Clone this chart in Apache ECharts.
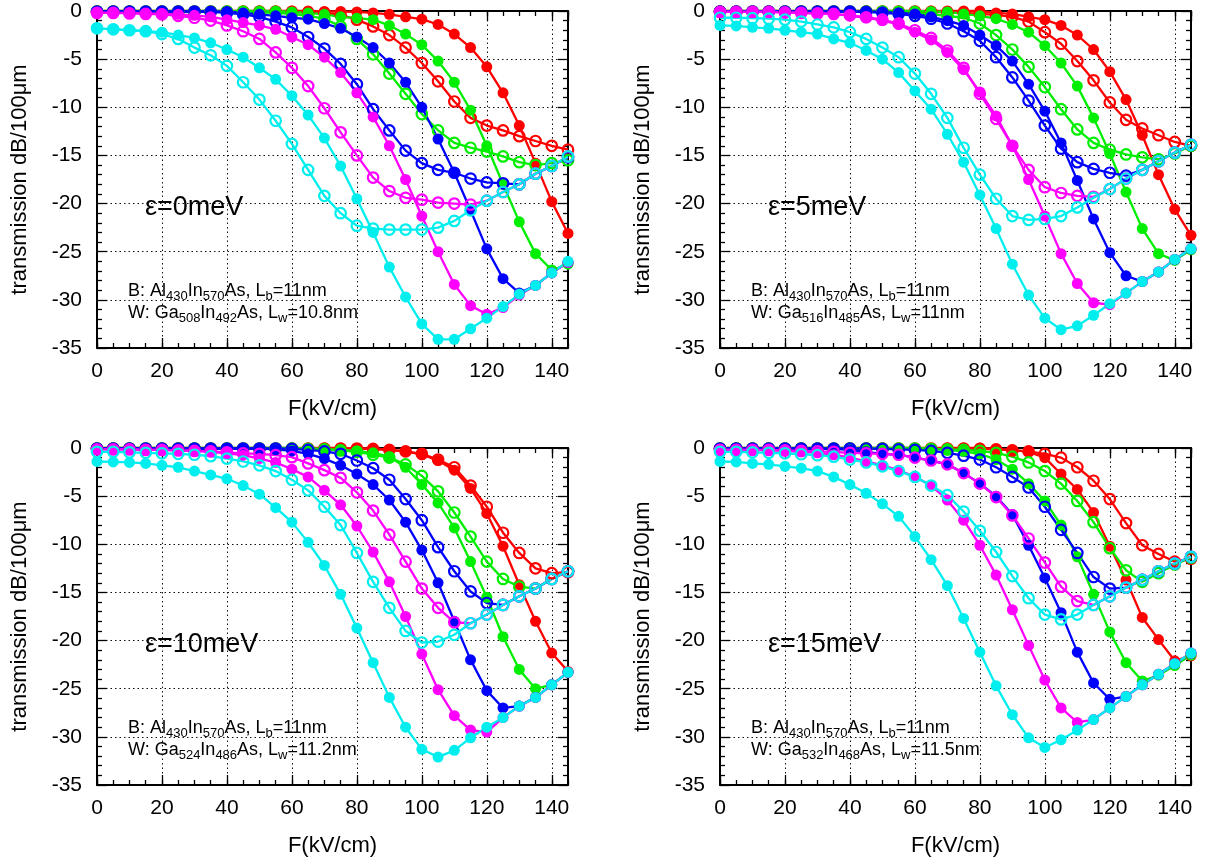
<!DOCTYPE html>
<html><head><meta charset="utf-8">
<script src="https://cdn.jsdelivr.net/npm/echarts@6/dist/echarts.min.js"></script>
<style>html,body{margin:0;padding:0;background:#fff}#c{width:1209px;height:858px}</style>
</head><body><div id="c"></div>
<script>
// ---------- data ----------
const F = [0,5,10,15,20,25,30,35,40,45,50,55,60,65,70,75,80,85,90,95,100,105,110,115,120,125,130,135,140,145];
const xTickLabels = [0,20,40,60,80,100,120,140];
const yTickLabels = [0,-5,-10,-15,-20,-25,-30,-35];

// eps = 0 meV
const e0_red_f = [0,0,0,0,0,0,0,0,0,0,0,0,0,0,-0.05,-0.05,-0.1,-0.2,-0.35,-0.6,-0.85,-1.4,-2.4,-3.8,-5.8,-8.5,-11.9,-15.8,-19.8,-23.1];
const e0_red_o = [-0.05,-0.05,-0.05,-0.05,-0.05,-0.05,-0.05,-0.05,-0.05,-0.05,-0.05,-0.05,-0.1,-0.15,-0.2,-0.4,-0.9,-1.6,-2.5,-3.8,-5.4,-7.3,-9.4,-11.1,-11.9,-12.4,-13.0,-13.5,-14.0,-14.4];
const e0_grn_f = [0,0,0,0,0,0,0,0,0,0,0,0,-0.1,-0.2,-0.35,-0.6,-0.75,-0.9,-1.5,-2.4,-3.5,-5.2,-7.4,-10.3,-14.0,-18.0,-21.9,-25.2,-26.9,-26.3];
const e0_grn_o = [-0.05,-0.05,-0.05,-0.05,-0.05,-0.05,-0.05,-0.05,-0.05,-0.1,-0.15,-0.2,-0.3,-0.5,-0.8,-1.6,-2.9,-4.5,-6.5,-8.6,-10.7,-12.4,-13.7,-14.2,-14.6,-15.1,-15.7,-16.0,-15.8,-15.5];
const e0_blu_f = [-0.05,-0.05,-0.05,-0.05,-0.05,-0.05,-0.05,-0.05,-0.05,-0.2,-0.35,-0.5,-0.7,-0.85,-1.3,-1.8,-2.7,-3.8,-5.4,-7.4,-10.0,-13.3,-16.8,-20.7,-24.7,-27.8,-29.3,-28.5,-27.2,-26.1];
const e0_blu_o = [-0.05,-0.05,-0.05,-0.05,-0.05,-0.05,-0.05,-0.1,-0.2,-0.35,-0.6,-1.1,-1.7,-2.7,-3.9,-5.5,-7.6,-10.2,-12.4,-14.5,-15.8,-16.5,-16.8,-17.4,-17.8,-17.9,-18.0,-16.9,-16.1,-15.2];
const e0_mag_f = [-0.2,-0.2,-0.2,-0.25,-0.3,-0.35,-0.45,-0.6,-0.9,-1.2,-1.5,-1.9,-2.7,-3.5,-4.8,-6.4,-8.5,-11.0,-14.0,-17.5,-21.3,-25.0,-28.4,-30.6,-31.5,-30.8,-29.5,-28.5,-27.2,-26.1];
const e0_mag_o = [-0.2,-0.2,-0.25,-0.3,-0.35,-0.5,-0.7,-1.0,-1.5,-2.1,-2.9,-4.3,-5.9,-7.8,-10.1,-12.6,-15.0,-17.3,-18.7,-19.4,-19.6,-19.9,-20.0,-20.1,-19.7,-18.8,-18.0,-16.9,-16.1,-15.1];
const e0_cyn_f = [-1.8,-1.9,-2.0,-2.1,-2.2,-2.5,-2.8,-3.3,-4.0,-4.8,-5.9,-7.1,-8.8,-10.8,-13.2,-16.1,-19.5,-23.0,-26.6,-29.7,-32.5,-34.1,-34.1,-33.0,-31.9,-30.7,-29.4,-28.5,-27.2,-26.0];
const e0_cyn_o = [-1.8,-1.9,-2.0,-2.1,-2.4,-2.9,-3.8,-4.6,-5.7,-7.4,-9.2,-11.4,-13.8,-16.5,-19.2,-21.0,-22.3,-22.6,-22.7,-22.7,-22.7,-22.5,-21.8,-20.7,-19.7,-18.8,-18.0,-16.9,-16.1,-15.1];

// eps = 5 meV
const e5_red_f = [0,0,0,0,0,0,0,0,0,0,0,0,0,0,0,0,0,-0.2,-0.3,-0.6,-0.9,-1.5,-2.5,-4.0,-6.3,-9.2,-12.9,-17.0,-20.6,-23.3];
const e5_red_o = [-0.05,-0.05,-0.05,-0.05,-0.05,-0.05,-0.05,-0.05,-0.05,-0.05,-0.05,-0.05,-0.05,-0.1,-0.15,-0.2,-0.3,-0.4,-0.6,-1.1,-2.2,-3.4,-5.2,-7.2,-9.5,-11.3,-12.2,-12.9,-13.6,-14.0];
const e5_grn_f = [0,0,0,0,0,0,0,0,0,0,0,0,0,-0.05,-0.1,-0.3,-0.5,-0.8,-1.4,-2.2,-3.6,-5.4,-7.8,-11.1,-14.8,-18.8,-22.6,-25.2,-25.9,-24.8];
const e5_grn_o = [-0.05,-0.05,-0.05,-0.05,-0.05,-0.05,-0.05,-0.05,-0.05,-0.05,-0.05,-0.1,-0.2,-0.35,-0.5,-0.7,-1.3,-2.5,-4.0,-5.8,-7.9,-10.2,-12.3,-13.7,-14.4,-14.9,-15.2,-15.4,-14.8,-14.0];
const e5_blu_f = [-0.05,-0.05,-0.05,-0.05,-0.05,-0.05,-0.05,-0.05,-0.05,-0.05,-0.1,-0.2,-0.3,-0.6,-1.0,-1.5,-2.5,-3.6,-5.2,-7.6,-10.4,-13.7,-17.6,-21.6,-25.1,-27.5,-28.1,-27.1,-25.8,-24.7];
const e5_blu_o = [-0.05,-0.05,-0.05,-0.05,-0.05,-0.05,-0.05,-0.05,-0.05,-0.1,-0.2,-0.3,-0.5,-0.8,-1.3,-2.1,-3.1,-4.8,-6.9,-9.3,-11.9,-14.3,-15.7,-16.4,-16.8,-17.1,-16.5,-15.6,-14.7,-13.9];
const e5_mag_f = [-0.1,-0.1,-0.1,-0.1,-0.15,-0.2,-0.25,-0.3,-0.5,-0.7,-1.0,-1.4,-2.2,-3.0,-4.3,-6.1,-8.4,-10.9,-14.0,-17.5,-21.3,-25.2,-28.3,-30.3,-30.5,-29.3,-28.1,-27.1,-25.8,-24.7];
const e5_mag_o = [-0.1,-0.1,-0.1,-0.1,-0.15,-0.2,-0.25,-0.3,-0.45,-0.65,-0.9,-1.3,-2.0,-2.8,-4.1,-5.9,-8.6,-11.2,-14.0,-16.5,-18.3,-18.9,-19.2,-19.3,-18.5,-17.4,-16.5,-15.6,-14.7,-13.9];
const e5_cyn_f = [-1.5,-1.55,-1.7,-1.8,-2.0,-2.2,-2.4,-2.9,-3.3,-4.1,-5.0,-6.4,-8.3,-10.2,-12.8,-15.7,-19.1,-22.6,-26.3,-29.5,-31.9,-33.1,-32.7,-31.6,-30.4,-29.3,-28.1,-27.1,-25.8,-24.7];
const e5_cyn_o = [-0.7,-0.7,-0.75,-0.8,-0.9,-1.1,-1.4,-1.7,-2.2,-2.9,-3.8,-4.8,-6.5,-8.6,-11.1,-14.2,-17.0,-19.5,-21.3,-21.7,-21.6,-21.3,-20.4,-19.4,-18.5,-17.4,-16.5,-15.6,-14.7,-13.9];

// eps = 10 meV
const e10_red_f = [0,0,0,0,0,0,0,0,0,0,0,0,0,0,0,0,-0.05,-0.1,-0.2,-0.35,-0.7,-1.3,-2.3,-4.2,-6.8,-10.2,-14.2,-18.0,-21.3,-23.2];
const e10_red_o = [-0.05,-0.05,-0.05,-0.05,-0.05,-0.05,-0.05,-0.05,-0.05,-0.05,-0.05,-0.05,-0.05,-0.05,-0.05,-0.05,-0.05,-0.1,-0.2,-0.35,-0.6,-1.2,-2.0,-3.9,-6.1,-8.8,-10.9,-12.5,-13.0,-12.9];
const e10_grn_f = [0,0,0,0,0,0,0,0,0,0,0,0,0,-0.05,-0.1,-0.2,-0.3,-0.5,-0.9,-2.0,-3.8,-5.7,-8.3,-11.8,-15.5,-19.6,-23.0,-25.0,-24.6,-23.3];
const e10_grn_o = [-0.05,-0.05,-0.05,-0.05,-0.05,-0.05,-0.05,-0.05,-0.05,-0.05,-0.05,-0.05,-0.05,-0.1,-0.15,-0.25,-0.4,-0.7,-1.0,-1.7,-2.9,-4.5,-6.7,-9.2,-11.8,-13.6,-14.4,-14.6,-13.6,-12.8];
const e10_blu_f = [-0.05,-0.05,-0.05,-0.05,-0.05,-0.05,-0.05,-0.05,-0.05,-0.05,-0.05,-0.15,-0.3,-0.6,-1.1,-1.8,-2.7,-3.8,-5.4,-7.7,-10.6,-14.0,-18.0,-22.0,-25.2,-27.0,-26.8,-25.9,-24.6,-23.3];
const e10_blu_o = [-0.05,-0.05,-0.05,-0.05,-0.05,-0.05,-0.05,-0.05,-0.05,-0.05,-0.05,-0.05,-0.1,-0.2,-0.35,-0.6,-1.3,-2.1,-3.3,-5.3,-7.5,-10.3,-12.8,-14.9,-16.1,-16.3,-15.4,-14.6,-13.6,-12.8];
const e10_mag_f = [-0.15,-0.15,-0.15,-0.2,-0.2,-0.25,-0.3,-0.4,-0.55,-0.75,-1.1,-1.5,-2.2,-3.0,-4.4,-5.9,-8.1,-10.8,-13.9,-17.5,-21.4,-25.1,-27.8,-29.3,-29.5,-28.0,-26.8,-25.9,-24.6,-23.3];
const e10_mag_o = [-0.15,-0.15,-0.15,-0.2,-0.2,-0.25,-0.3,-0.35,-0.45,-0.55,-0.6,-0.75,-0.95,-1.6,-2.3,-3.1,-4.6,-6.5,-9.0,-11.8,-14.6,-16.6,-18.1,-18.2,-17.3,-16.3,-15.4,-14.6,-13.6,-12.8];
const e10_cyn_f = [-1.4,-1.45,-1.5,-1.6,-1.8,-2.0,-2.4,-2.8,-3.2,-3.9,-4.8,-6.2,-7.7,-9.8,-12.2,-15.2,-18.7,-22.3,-25.9,-29.0,-31.3,-32.1,-31.4,-30.1,-29.0,-28.0,-26.8,-25.9,-24.6,-23.3];
const e10_cyn_o = [-0.4,-0.4,-0.45,-0.5,-0.55,-0.6,-0.7,-0.85,-1.1,-1.4,-1.8,-2.4,-3.3,-4.4,-6.1,-8.0,-10.9,-13.9,-16.6,-19.0,-20.2,-20.1,-19.4,-18.2,-17.3,-16.3,-15.4,-14.6,-13.6,-12.8];

// eps = 15 meV
const e15_red_f = [0,0,0,0,0,0,0,0,0,0,0,0,0,0,0,0,0,-0.1,-0.2,-0.4,-1.0,-2.7,-4.3,-6.7,-10.2,-13.7,-17.6,-19.9,-22.1,-21.6];
const e15_red_o = [-0.05,-0.05,-0.05,-0.05,-0.05,-0.05,-0.05,-0.05,-0.05,-0.05,-0.05,-0.05,-0.05,-0.05,-0.05,-0.05,-0.1,-0.15,-0.25,-0.35,-0.6,-1.0,-2.0,-3.4,-5.3,-7.8,-10.1,-11.0,-11.8,-11.5];
const e15_grn_f = [0,0,0,0,0,0,0,0,0,0,0,0,0,-0.1,-0.2,-0.35,-0.6,-1.2,-2.2,-3.7,-5.5,-8.0,-11.3,-15.2,-19.1,-22.3,-24.2,-23.6,-22.6,-21.5];
const e15_grn_o = [-0.05,-0.05,-0.05,-0.05,-0.05,-0.05,-0.05,-0.05,-0.05,-0.05,-0.05,-0.05,-0.05,-0.1,-0.15,-0.2,-0.3,-0.5,-0.9,-1.5,-2.4,-3.7,-5.5,-7.7,-10.4,-12.7,-13.9,-13.0,-12.1,-11.4];
const e15_blu_f = [-0.05,-0.05,-0.05,-0.05,-0.05,-0.05,-0.05,-0.1,-0.2,-0.4,-0.6,-0.7,-1.0,-1.3,-1.7,-2.6,-3.7,-5.0,-6.9,-10.1,-13.5,-17.1,-21.2,-24.4,-26.1,-25.8,-24.6,-23.5,-22.4,-21.3];
const e15_blu_o = [-0.05,-0.05,-0.05,-0.05,-0.05,-0.05,-0.05,-0.05,-0.05,-0.05,-0.1,-0.15,-0.2,-0.3,-0.5,-0.8,-1.2,-2.0,-3.0,-4.1,-6.1,-8.5,-10.9,-13.4,-14.6,-14.5,-13.7,-12.8,-12.0,-11.3];
const e15_mag_f = [-0.2,-0.2,-0.2,-0.25,-0.3,-0.4,-0.5,-0.7,-1.0,-1.4,-1.8,-2.3,-3.0,-3.9,-5.4,-7.5,-10.1,-13.2,-16.8,-20.5,-24.1,-27.0,-28.5,-28.2,-27.0,-25.8,-24.6,-23.5,-22.4,-21.3];
const e15_mag_o = [-0.2,-0.2,-0.2,-0.2,-0.25,-0.3,-0.35,-0.4,-0.5,-0.55,-0.6,-0.7,-1.0,-1.3,-1.7,-2.6,-3.7,-5.1,-7.0,-9.4,-11.9,-14.4,-15.9,-16.3,-15.4,-14.5,-13.7,-12.8,-12.0,-11.3];
const e15_cyn_f = [-1.4,-1.45,-1.6,-1.7,-1.9,-2.1,-2.4,-3.0,-3.8,-4.7,-5.8,-7.1,-9.2,-11.6,-14.3,-17.7,-21.2,-24.7,-27.7,-30.1,-31.1,-30.3,-29.3,-28.2,-27.0,-25.8,-24.6,-23.5,-22.4,-21.3];
const e15_cyn_o = [-0.4,-0.4,-0.45,-0.5,-0.55,-0.65,-0.75,-0.9,-1.2,-1.5,-1.9,-2.4,-3.0,-3.9,-4.9,-6.6,-8.6,-10.8,-13.3,-15.6,-17.3,-17.8,-17.3,-16.3,-15.4,-14.5,-13.7,-12.8,-12.0,-11.3];

const panelLabels = ['ε=0meV', 'ε=5meV', 'ε=10meV', 'ε=15meV'];
const noteB = '{n|B: Al}{s|430}{n|In}{s|570}{n|As, L}{s|b}{n|=11nm}';
const noteW = [
  '{n|W: Ga}{s|508}{n|In}{s|492}{n|As, L}{s|w}{n|=10.8nm}',
  '{n|W: Ga}{s|516}{n|In}{s|485}{n|As, L}{s|w}{n|=11nm}',
  '{n|W: Ga}{s|524}{n|In}{s|486}{n|As, L}{s|w}{n|=11.2nm}',
  '{n|W: Ga}{s|532}{n|In}{s|468}{n|As, L}{s|w}{n|=11.5nm}'
];
const xTitle = 'F(kV/cm)';
const yTitle = 'transmission dB/100μm';

const panelSeries = [
  [e0_red_f,e0_red_o,e0_grn_f,e0_grn_o,e0_blu_f,e0_blu_o,e0_mag_f,e0_mag_o,e0_cyn_f,e0_cyn_o],
  [e5_red_f,e5_red_o,e5_grn_f,e5_grn_o,e5_blu_f,e5_blu_o,e5_mag_f,e5_mag_o,e5_cyn_f,e5_cyn_o],
  [e10_red_f,e10_red_o,e10_grn_f,e10_grn_o,e10_blu_f,e10_blu_o,e10_mag_f,e10_mag_o,e10_cyn_f,e10_cyn_o],
  [e15_red_f,e15_red_o,e15_grn_f,e15_grn_o,e15_blu_f,e15_blu_o,e15_mag_f,e15_mag_o,e15_cyn_f,e15_cyn_o]
];

// ---------- styling / layout ----------
const FONT = 'Liberation Sans, Arial, sans-serif';
const COLORS = ['#ff0000','#ff0000','#00ee00','#00ee00','#0000ff','#0000ff','#ff00ff','#ff00ff','#00eeee','#00eeee'];
const gridPos = [[97,11],[720,11],[97,448],[720,448]];
const GW = 471, GH = 337;

const option = {animation:false, backgroundColor:'#fff', grid:[], xAxis:[], yAxis:[], series:[], graphic:[]};
const BLACK = '#000';

gridPos.forEach(([l,t], i) => {
  option.grid.push({left:l, top:t, width:GW, height:GH, containLabel:false, outerBoundsMode:'none'});
  const xMin = xTickLabels[0], xMax = F[F.length-1];
  const xBase = {type:'value', gridIndex:i, min:xMin, max:xMax, silent:true, axisPointer:{show:false}};
  option.xAxis.push(Object.assign({}, xBase, {
    position:'bottom', interval:20,
    axisLine:{show:true, onZero:false, lineStyle:{color:BLACK, width:2}},
    axisTick:{show:true, inside:true, length:10, lineStyle:{color:BLACK, width:1.3}},
    minorTick:{show:false},
    axisLabel:{show:true, fontSize:21, color:BLACK, fontFamily:FONT, margin:13, showMaxLabel:false, showMinLabel:true,
      formatter:(v)=> xTickLabels.indexOf(v) >= 0 ? String(v) : ''},
    splitLine:{show:true, lineStyle:{color:'#111', width:1, type:[1.5,3]}}
  }));
  option.xAxis.push(Object.assign({}, xBase, {
    position:'bottom', interval:5,
    axisLine:{show:false, onZero:false}, axisTick:{show:true, inside:true, length:5, lineStyle:{color:BLACK, width:1.3}},
    axisLabel:{show:false}, splitLine:{show:false}
  }));
  option.xAxis.push(Object.assign({}, xBase, {
    position:'top', interval:20,
    axisLine:{show:true, onZero:false, lineStyle:{color:BLACK, width:2}},
    axisTick:{show:true, inside:true, length:10, lineStyle:{color:BLACK, width:1.3}},
    axisLabel:{show:false}, splitLine:{show:false}
  }));
  option.xAxis.push(Object.assign({}, xBase, {
    position:'top', interval:5,
    axisLine:{show:false, onZero:false}, axisTick:{show:true, inside:true, length:5, lineStyle:{color:BLACK, width:1.3}},
    axisLabel:{show:false}, splitLine:{show:false}
  }));
  const yBase = {type:'value', gridIndex:i, min:yTickLabels[yTickLabels.length-1], max:yTickLabels[0], interval:5, silent:true,
    minorTick:{show:true, splitNumber:5, length:5, lineStyle:{color:BLACK, width:1.3}}};
  option.yAxis.push(Object.assign({}, yBase, {
    position:'left',
    axisLine:{show:true, onZero:false, lineStyle:{color:BLACK, width:2}},
    axisTick:{show:true, inside:true, length:10, lineStyle:{color:BLACK, width:1.3}},
    axisLabel:{show:true, fontSize:21, color:BLACK, fontFamily:FONT, margin:15},
    splitLine:{show:true, lineStyle:{color:'#111', width:1, type:[1.5,3]}}
  }));
  option.yAxis.push(Object.assign({}, yBase, {
    position:'right',
    axisLine:{show:true, onZero:false, lineStyle:{color:BLACK, width:2}},
    axisTick:{show:true, inside:true, length:10, lineStyle:{color:BLACK, width:1.3}},
    axisLabel:{show:false}, splitLine:{show:false}
  }));

  panelSeries[i].forEach((vals, k) => {
    const c = COLORS[k];
    const open = (k % 2) === 1;
    option.series.push({
      type:'line', xAxisIndex:4*i, yAxisIndex:2*i,
      data: F.map((f, j) => [f, vals[j]]),
      symbol:'circle', symbolSize: open ? 10.5 : 11,
      showSymbol:true, showAllSymbol:true, clip:false, silent:true,
      lineStyle:{color:c, width:2.3},
      itemStyle: open ? {color:'rgba(255,255,255,0)', borderColor:c, borderWidth:2.2} : {color:c, borderWidth:0},
      emphasis:{disabled:true}
    });
  });

  option.graphic.push({type:'text', silent:true, x:l+48, y:t+197,
    style:{text:panelLabels[i], fontSize:27, fontFamily:FONT, fill:BLACK, align:'left', verticalAlign:'middle'}});
  const rich = {n:{fontSize:18, fontFamily:FONT, lineHeight:24, fill:BLACK, color:BLACK},
                s:{fontSize:13, fontFamily:FONT, lineHeight:14, verticalAlign:'bottom', fill:BLACK, color:BLACK}};
  option.graphic.push({type:'text', silent:true, x:l+31, y:t+280,
    style:{text:noteB, rich, align:'left', verticalAlign:'middle', fill:BLACK}});
  option.graphic.push({type:'text', silent:true, x:l+31, y:t+302,
    style:{text:noteW[i], rich, align:'left', verticalAlign:'middle', fill:BLACK}});
  option.graphic.push({type:'text', silent:true, x:l-77, y:t+GH/2, rotation:Math.PI/2,
    style:{text:yTitle, fontSize:22, fontFamily:FONT, fill:BLACK, align:'center', verticalAlign:'middle'}});
  option.graphic.push({type:'text', silent:true, x:l+GW/2, y:t+GH+61,
    style:{text:xTitle, fontSize:22, fontFamily:FONT, fill:BLACK, align:'center', verticalAlign:'middle'}});
});

const chart = echarts.init(document.getElementById('c'), null, {renderer:'canvas'});
chart.setOption(option);
</script>
</body></html>
